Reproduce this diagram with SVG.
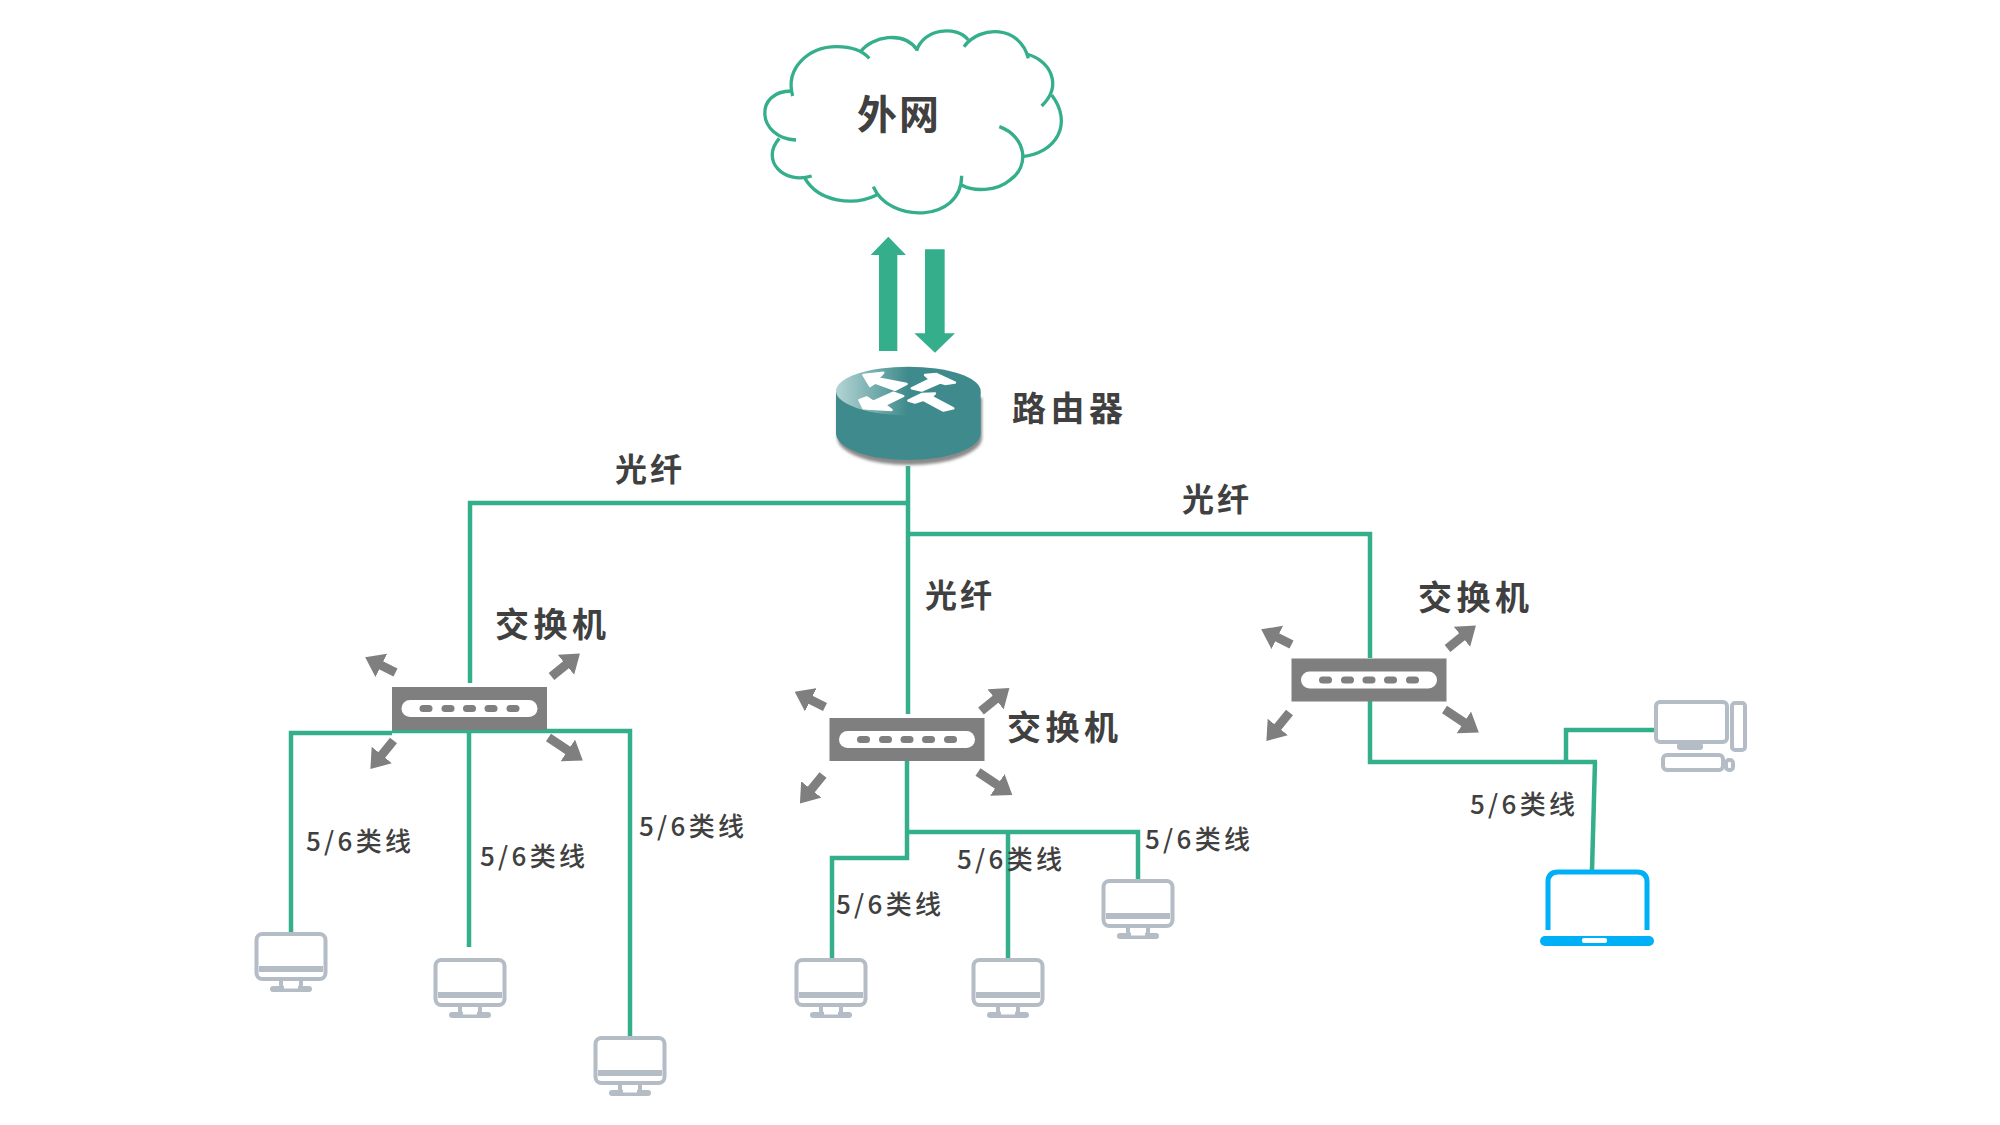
<svg xmlns="http://www.w3.org/2000/svg" xmlns:xlink="http://www.w3.org/1999/xlink" width="2000" height="1125" viewBox="0 0 2000 1125">
<style>
text{font-family:"Noto Sans CJK SC","Noto Sans",sans-serif;fill:#404040}
.big{font-size:34px;font-weight:700;letter-spacing:4.5px}
.fib{font-size:32px;font-weight:700;letter-spacing:3px}
.cat{font-size:26px;font-weight:500;letter-spacing:3.3px}
.link{fill:none;stroke:#35ae8c;stroke-width:4.5}
.dev{fill:none;stroke:#b4bcc6;stroke-width:4}
.devf{fill:#b4bcc6}
.spoke{stroke:#7f7f7f;stroke-width:9;marker-end:url(#head)}
</style>
<defs>
<marker id="head" markerUnits="userSpaceOnUse" viewBox="0 0 18 26" markerWidth="18" markerHeight="26" refX="2" refY="13" orient="auto"><path d="M0,0L18,13L0,26z" fill="#7f7f7f"/></marker>
<linearGradient id="rtop" x1="0" x2="1" y1="0" y2="0"><stop offset="0" stop-color="#b4d4d4"/><stop offset=".5" stop-color="#3e8a8c"/></linearGradient>
<filter id="soft" x="-10%" y="-10%" width="120%" height="120%"><feGaussianBlur stdDeviation="4"/></filter>
<g id="switch">
<rect x="-77.500" y="-21.500" width="155" height="43" fill="#7f7f7f"/>
<rect x="-68" y="-8.500" width="136" height="17" rx="8.500" fill="#fff"/>
<g fill="#7f7f7f"><rect x="-50" y="-3.500" width="13" height="7" rx="3.500"/><rect x="-28" y="-3.500" width="13" height="7" rx="3.500"/><rect x="-6.500" y="-3.500" width="13" height="7" rx="3.500"/><rect x="15" y="-3.500" width="13" height="7" rx="3.500"/><rect x="37" y="-3.500" width="13" height="7" rx="3.500"/></g>
</g>
<g id="spokes">
<line class="spoke" x1="-74" y1="-36" x2="-90" y2="-44"/>
<line class="spoke" x1="82" y1="-32" x2="98" y2="-45"/>
<line class="spoke" x1="-76" y1="32" x2="-89" y2="48"/>
<line class="spoke" x1="79" y1="29" x2="100" y2="43"/>
</g>
<g id="pc">
<rect class="dev" x="-34.500" y="2" width="69" height="45" rx="6"/>
<rect class="devf" x="-32" y="34" width="64" height="6"/>
<path class="dev" d="M-10,48V53Q-10,58 0,58Q10,58 10,53V48"/>
<rect class="devf" x="-21" y="54" width="42" height="6" rx="3"/>
<rect x="-7" y="54" width="14" height="2.500" fill="#fff"/>
</g>
</defs>
<rect width="2000" height="1125" fill="#fff"/>

<g id="connectors">
<path class="link" d="M908,466V714"/>
<path class="link" d="M470,683V503H908"/>
<path class="link" d="M908,534H1370V658"/>
<path class="link" d="M1370,700V762H1597"/>
<path class="link" d="M1595,762L1592,870"/>
<path class="link" d="M1566,762V730H1654"/>
<path class="link" d="M907,760V858H832V960"/>
<path class="link" d="M907,832H1138V880"/>
<path class="link" d="M1008,832V960"/>
<path class="link" d="M291,932V733H392M392,731H630V1036"/>
<path class="link" d="M469,731V947"/>
</g>

<g id="cloud" transform="translate(740 10) scale(.33333)">
<g fill="none" stroke="#35ae8c" stroke-width="10">
<path d="M158,258C135,175 205,110 290,110C330,110 365,120 388,145"/>
<path d="M362,125C395,80 490,60 532,120"/>
<path d="M530,122C550,55 650,45 685,90"/>
<path d="M672,110C720,45 840,45 865,145"/>
<path d="M860,132C930,150 970,225 905,288"/>
<path d="M935,255C1000,340 950,430 845,440"/>
<path d="M778,350C860,380 870,470 810,510C770,545 700,545 665,525"/>
<path d="M665,497C665,640 445,640 400,530"/>
<path d="M410,555C340,590 235,575 195,505"/>
<path d="M215,498C130,525 60,450 118,385"/>
<path d="M168,390C50,385 40,240 158,243"/>
</g>
</g>
<text id="label-cloud" x="857" y="129" style="font-size:40px;font-weight:700;letter-spacing:2px">外网</text>

<g id="up-arrow" transform="translate(740 10) scale(.33333)"><path d="M417,1023V735H392L445,680L498,735H472V1023z" fill="#35ae8c"/></g>
<g id="down-arrow" transform="translate(740 10) scale(.33333)"><path d="M555,718H614V970H645L585,1028L523,970H555z" fill="#35ae8c"/></g>

<g id="router" transform="translate(740 10) scale(.33333)">
<path d="M288,1155V1275A217,82 0 0 0 722,1275V1155z" fill="#8a8a8a" transform="translate(4 8)" filter="url(#soft)"/>
<path d="M288,1145V1270A217,80 0 0 0 722,1270V1145z" fill="#3e8a8c"/>
<ellipse cx="505" cy="1143" rx="217" ry="73" fill="url(#rtop)"/>
<g fill="#fff" stroke="#fff" stroke-width="7" stroke-linejoin="round">
<path d="M370,1095L430,1088L415,1105L500,1122L465,1140L405,1118L390,1128z"/>
<path d="M645,1118L590,1092L555,1095L570,1108L515,1135L545,1142L600,1118L615,1122z"/>
<path d="M358,1170L370,1195L455,1200L435,1185L490,1158L460,1148L400,1175L380,1162z"/>
<path d="M640,1195L610,1202L550,1170L525,1178L505,1172L545,1152L585,1150L575,1160z"/>
</g>
</g>
<text id="label-router" class="big" x="1012" y="421">路由器</text>

<g id="switch-left"><use href="#switch" xlink:href="#switch" transform="translate(469.500 708.500)"/><use href="#spokes" xlink:href="#spokes" transform="translate(469.500 708.500)"/><text class="big" x="495" y="637">交换机</text></g>
<g id="switch-middle"><use href="#switch" xlink:href="#switch" transform="translate(907 739.500)"/><use href="#spokes" xlink:href="#spokes" transform="translate(899 743)"/><text class="big" x="1007" y="740">交换机</text></g>
<g id="switch-right"><use href="#switch" xlink:href="#switch" transform="translate(1369 680)"/><use href="#spokes" xlink:href="#spokes" transform="translate(1365.500 680.500)"/><text class="big" x="1418" y="610">交换机</text></g>

<g id="pc-1"><use href="#pc" xlink:href="#pc" transform="translate(291 932)"/></g>
<g id="pc-2"><use href="#pc" xlink:href="#pc" transform="translate(470 958)"/></g>
<g id="pc-3"><use href="#pc" xlink:href="#pc" transform="translate(630 1036)"/></g>
<g id="pc-4"><use href="#pc" xlink:href="#pc" transform="translate(831 958)"/></g>
<g id="pc-5"><use href="#pc" xlink:href="#pc" transform="translate(1008 958)"/></g>
<g id="pc-6"><use href="#pc" xlink:href="#pc" transform="translate(1138 879)"/></g>

<g id="desktop">
<rect class="dev" x="1656" y="702" width="71" height="40" rx="4"/>
<rect class="dev" x="1732" y="703" width="13" height="47" rx="3"/>
<rect class="devf" x="1677" y="743" width="26" height="7" rx="3"/>
<rect class="dev" x="1663" y="755" width="60" height="15" rx="4"/>
<rect class="dev" x="1726" y="760" width="7" height="10" rx="3"/>
</g>

<g id="laptop">
<path d="M1548,930V882Q1548,872 1558,872H1637Q1647,872 1647,882V930" fill="none" stroke="#00b0f6" stroke-width="5"/>
<rect x="1540" y="936" width="114" height="10" rx="5" fill="#00b0f6"/>
<rect x="1582" y="938" width="25" height="5" rx="2" fill="#fff"/>
</g>

<g id="labels">
<text class="fib" x="615" y="481">光纤</text>
<text class="fib" x="1182" y="511">光纤</text>
<text class="fib" x="925" y="607">光纤</text>
<text class="cat" x="306" y="851">5/6类线</text>
<text class="cat" x="480" y="866">5/6类线</text>
<text class="cat" x="639" y="836">5/6类线</text>
<text class="cat" x="836" y="914">5/6类线</text>
<text class="cat" x="957" y="869">5/6类线</text>
<text class="cat" x="1145" y="849">5/6类线</text>
<text class="cat" x="1470" y="814">5/6类线</text>
</g>
</svg>
